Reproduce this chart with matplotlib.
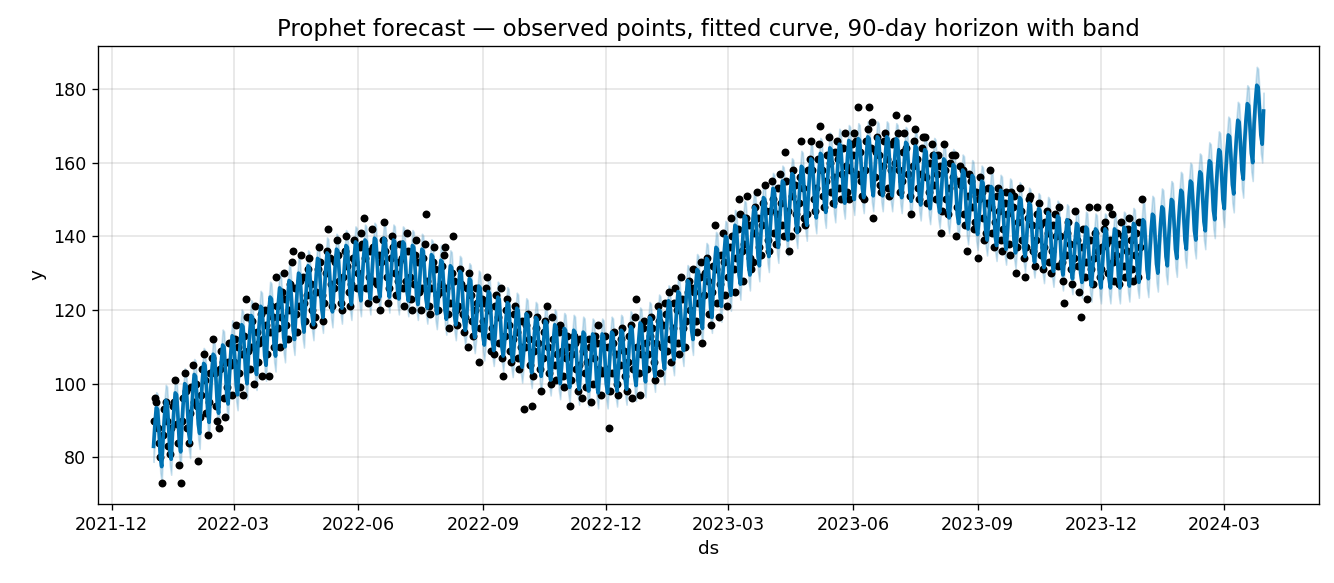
import numpy as np
import pandas as pd
import matplotlib
matplotlib.use('Agg')
import matplotlib.pyplot as plt
import matplotlib.dates as mdates

start = '2022-01-01'
horizon = 90

# observed daily values, one row per month (2022-01 .. 2023-12)
y_obs = [
    90, 96, 95, 88, 84, 80, 73, 86, 93, 95, 90, 83, 81, 88, 94, 95, 101, 89, 84, 78, 73, 90, 96, 103, 98, 88, 84, 92, 99, 105, 95,
    100, 94, 79, 91, 97, 104, 108, 101, 92, 86, 95, 103, 107, 112, 103, 94, 90, 88, 104, 109, 106, 96, 91, 99, 106, 111, 105, 97,
    106, 112, 116, 110, 103, 99, 108, 97, 113, 123, 118, 109, 104, 110, 117, 100, 121, 114, 106, 111, 119, 102, 112, 120, 116, 108, 102, 114, 121, 118, 110,
    129, 121, 115, 110, 118, 125, 130, 123, 116, 112, 120, 127, 133, 136, 126, 119, 114, 121, 128, 135, 129, 122, 117, 124, 131, 134, 127, 120, 116, 118,
    125, 131, 137, 133, 124, 117, 122, 130, 136, 142, 134, 127, 121, 126, 133, 139, 135, 128, 122, 120, 129, 136, 140, 132, 125, 121, 127, 134, 139, 133, 126,
    130, 137, 141, 138, 145, 134, 126, 122, 129, 136, 142, 137, 128, 123, 127, 135, 120, 133, 139, 144, 136, 129, 122, 126, 134, 140, 137, 130, 124, 128,
    133, 138, 134, 126, 121, 128, 141, 136, 129, 123, 120, 127, 135, 139, 133, 125, 120, 126, 134, 138, 146, 128, 121, 119, 126, 133, 137, 131, 124, 120, 125,
    127, 132, 135, 137, 126, 119, 115, 122, 130, 140, 128, 120, 116, 121, 131, 127, 119, 114, 118, 126, 110, 130, 124, 117, 113, 120, 126, 122, 106, 115, 123,
    117, 122, 126, 129, 120, 113, 109, 115, 108, 121, 124, 118, 111, 126, 107, 102, 113, 120, 123, 116, 109, 106, 112, 119, 121, 114, 107, 104, 110, 117,
    93, 110, 116, 119, 112, 105, 94, 102, 109, 115, 118, 111, 104, 98, 107, 114, 117, 121, 110, 103, 100, 118, 112, 105, 101, 108, 114, 116, 109, 102, 99,
    107, 113, 110, 94, 101, 108, 113, 111, 104, 98, 105, 112, 96, 109, 103, 99, 106, 112, 110, 95, 100, 107, 113, 111, 116, 104, 97, 103, 110, 113,
    104, 110, 88, 98, 103, 111, 114, 108, 100, 97, 105, 112, 115, 109, 102, 98, 106, 113, 116, 96, 104, 118, 123, 110, 103, 97, 108, 115, 117, 111, 104,
    108, 113, 118, 115, 106, 101, 111, 121, 117, 103, 110, 116, 122, 119, 109, 125, 112, 106, 115, 122, 126, 120, 111, 108, 129, 123, 115, 110, 117, 125, 128,
    120, 126, 131, 125, 117, 114, 122, 129, 133, 111, 124, 130, 134, 128, 119, 116, 125, 132, 143, 131, 122, 118, 127, 135, 141, 133, 124, 121,
    129, 137, 145, 140, 131, 125, 134, 142, 150, 146, 136, 128, 138, 145, 151, 143, 134, 131, 133, 141, 148, 152, 145, 137, 135, 143, 149, 154, 147, 139, 136,
    147, 155, 150, 141, 138, 146, 153, 157, 149, 143, 140, 163, 155, 147, 136, 140, 151, 158, 154, 146, 142, 149, 156, 166, 153, 145, 143, 146, 158, 161,
    166, 158, 150, 147, 153, 161, 165, 170, 158, 151, 148, 155, 162, 167, 160, 152, 149, 156, 163, 166, 161, 153, 150, 157, 164, 168, 159, 152, 150, 158, 165,
    162, 168, 166, 157, 175, 163, 155, 151, 150, 158, 166, 169, 175, 164, 171, 145, 156, 163, 167, 162, 154, 152, 159, 166, 168, 161, 153, 151, 158, 165,
    166, 160, 173, 168, 158, 152, 155, 163, 168, 164, 172, 157, 151, 146, 159, 166, 169, 161, 153, 150, 157, 164, 167, 167, 156, 149, 152, 160, 165, 162, 154,
    150, 157, 162, 159, 141, 147, 165, 158, 150, 146, 153, 160, 162, 156, 162, 140, 148, 155, 159, 154, 158, 146, 143, 136, 151, 157, 155, 148, 142, 144, 152,
    134, 150, 156, 152, 145, 139, 141, 149, 153, 158, 148, 141, 137, 144, 151, 153, 147, 139, 136, 142, 149, 152, 146, 138, 135, 152, 148, 151, 130, 137,
    144, 153, 147, 139, 134, 129, 137, 145, 150, 151, 143, 136, 132, 139, 146, 149, 143, 135, 131, 137, 144, 147, 141, 133, 130, 136, 143, 146, 140, 132, 148,
    140, 133, 128, 122, 135, 141, 144, 138, 131, 127, 134, 147, 139, 132, 125, 118, 137, 142, 129, 133, 123, 148, 139, 131, 127, 134, 141, 148, 136, 129,
    131, 137, 142, 144, 138, 130, 148, 139, 146, 133, 128, 135, 141, 127, 138, 144, 140, 132, 129, 136, 142, 145, 139, 131, 128, 135, 141, 129, 144, 137, 150,
]

# fitted trend level per week, starting 2022-01-01 (history + forecast)
trend_weekly = [
    86, 88, 90, 92.5, 95, 98, 100.5, 103, 105.5, 108.5, 111, 113.5, 116,
    118.5, 120.5, 122.5, 124.5, 126.5, 128, 129, 130, 131, 131.5, 132, 132, 131.5,
    131, 130, 129, 127.5, 126, 124.5, 123, 121, 119, 117.5, 116, 114.5, 113,
    111.5, 110.5, 109.5, 108.5, 107.5, 107, 106.5, 106, 106, 106.5, 107, 108, 109, 110.5,
    112.5, 115, 117.5, 120.5, 123.5, 126.5, 129.5, 132.5, 135.5, 138, 140.5, 143,
    145.5, 147.5, 149.5, 151.5, 153.5, 155, 156.5, 157.5, 158.5, 159, 159.5, 159.5, 159.5,
    159, 158, 157, 156, 155, 153.5, 152, 150.5, 149, 147.5, 146, 145, 144, 143,
    141.5, 140, 139, 138, 137, 136, 135, 134.5, 134.5, 134.5, 135, 136, 137,
    138.5, 140.5, 142.5, 145, 147.5, 150, 153, 156, 160, 164, 168.5, 173.5, 177,
]
# weekly seasonal effect, Saturday .. Friday
weekly_effect = [-3, 3, 7.5, 7, 1, -6, -8.5]
band_hist = 4.2
band_future = 5.0

ds_obs = pd.date_range(start, periods=len(y_obs), freq='D')
ds_all = pd.date_range(start, periods=len(y_obs) + horizon, freq='D')
n = len(ds_all)
yhat = np.repeat(trend_weekly, 7)[:n] + np.tile(weekly_effect, n // 7 + 1)[:n]
half = np.where(np.arange(n) < len(y_obs), band_hist, band_future)

fig = plt.figure(figsize=(1334 / 120, 583 / 120), dpi=120)
ax = fig.add_axes([0.0735, 0.1355, 0.9153, 0.7856])
ax.plot(ds_obs, y_obs, 'k.', ms=7.5)
ax.plot(ds_all, yhat, ls='-', c='#0072B2', lw=2.2)
ax.fill_between(ds_all, yhat - half, yhat + half, color='#0072B2', alpha=0.2)
ax.grid(True, which='major', c='gray', ls='-', lw=1, alpha=0.2)
ax.xaxis.set_major_locator(mdates.MonthLocator(bymonth=[3, 6, 9, 12]))
ax.xaxis.set_major_formatter(mdates.DateFormatter('%Y-%m'))
ax.set_xlabel('ds', fontsize=11)
ax.set_ylabel('y', fontsize=11)
ax.tick_params(labelsize=10.5)
ax.set_title('Prophet forecast — observed points, fitted curve, 90-day horizon with band', fontsize=13.7)
fig.savefig('out.png', dpi=120)
